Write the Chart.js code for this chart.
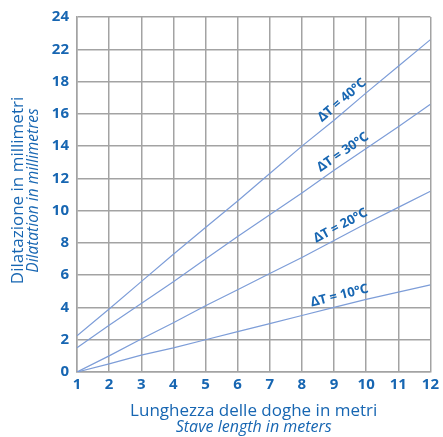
<!DOCTYPE html>
<html>
<head>
<meta charset="utf-8">
<script src="https://cdn.jsdelivr.net/npm/chart.js@4.4.1/dist/chart.umd.min.js"></script>
<style>
  html, body { margin: 0; padding: 0; background: #fff; }
  #wrap { width: 443px; height: 437px; }
</style>
</head>
<body>
<div id="wrap"><canvas id="dilatChart" width="443" height="437"></canvas></div>
<script>
// Lunghezza delle doghe (m)
const lengths = [1, 2, 3, 4, 5, 6, 7, 8, 9, 10, 11, 12];

// Dilatazione (mm) per ogni ΔT
const dt10 = [0, 0.5, 1.05, 1.5, 2.0, 2.5, 3.0, 3.5, 4.0, 4.5, 4.95, 5.4];
const dt20 = [0, 1.0, 2.05, 3.05, 4.1, 5.1, 6.1, 7.1, 8.15, 9.2, 10.2, 11.2];
const dt30 = [1.5, 2.9, 4.25, 5.6, 7.0, 8.4, 9.75, 11.1, 12.5, 13.85, 15.2, 16.6];
const dt40 = [2.25, 3.9, 5.6, 7.3, 8.95, 10.6, 12.3, 14.0, 15.6, 17.3, 18.95, 20.6];

const seriesNames = ['ΔT = 10°C', 'ΔT = 20°C', 'ΔT = 30°C', 'ΔT = 40°C'];

// Etichette asse y come stampate nell'originale (manca il 20)
const yTickLabels = ['0', '2', '4', '6', '8', '10', '12', '14', '16', '18', '22', '24'];

const blue = '#1766b2';
const lineBlue = '#7d9dd8';
const gridGray = '#a3a3a3';

// dove mettere la scritta lungo ciascuna retta (valore di x)
const labelAt = [9.25, 9.35, 9.45, 9.45];

// Etichette ruotate lungo le rette
const lineLabels = {
    id: 'lineLabels',
    afterDatasetsDraw(chart) {
        const { ctx, scales } = chart;
        const xs = scales.x, ys = scales.y;
        ctx.save();
        ctx.fillStyle = blue;
        ctx.font = 'bold 13px "Noto Sans"';
        ctx.textAlign = 'center';
        ctx.textBaseline = 'middle';
        chart.data.datasets.forEach((ds, k) => {
            const atX = labelAt[k];
            const pts = ds.data;
            const i = Math.floor(atX) - 1;
            const y0 = pts[i].y, y1 = pts[i + 1].y;
            const yv = y0 + (y1 - y0) * (atX - Math.floor(atX));
            const px = xs.getPixelForValue(atX);
            const py = ys.getPixelForValue(yv);
            const dx = xs.getPixelForValue(pts[i + 1].x) - xs.getPixelForValue(pts[i].x);
            const dy = ys.getPixelForValue(y1) - ys.getPixelForValue(y0);
            const ang = Math.atan2(dy, dx);
            ctx.save();
            ctx.translate(px, py);
            ctx.rotate(ang);
            ctx.fillText(ds.label, 0, -10);
            ctx.restore();
        });
        ctx.restore();
    }
};

// Titoli degli assi su due righe (italiano + inglese)
const axisTitles = {
    id: 'axisTitles',
    afterDraw(chart) {
        const { ctx, chartArea } = chart;
        const cx = (chartArea.left + chartArea.right) / 2;
        const cy = (chartArea.top + chartArea.bottom) / 2;
        ctx.save();
        ctx.fillStyle = blue;
        ctx.textAlign = 'center';
        ctx.textBaseline = 'middle';
        ctx.font = '17px "Open Sans"';
        ctx.fillText('Lunghezza delle doghe in metri', cx, 411);
        ctx.font = 'italic 16px "Open Sans"';
        ctx.fillText('Stave length in meters', cx, 427);

        ctx.translate(0, cy - 4);
        ctx.rotate(-Math.PI / 2);
        ctx.font = '17px "Open Sans"';
        ctx.fillText('Dilatazione in millimetri', 0, 18);
        ctx.font = 'italic 15.5px "Open Sans"';
        ctx.fillText('Dilatation in millimetres', 0, 34);
        ctx.restore();
    }
};

document.addEventListener('DOMContentLoaded', function() {
    const series = [dt10, dt20, dt30, dt40];
    const ctx = document.getElementById('dilatChart');
    const tickFont = { family: '"Noto Sans"', size: 15, weight: 'bold' };
    new Chart(ctx.getContext('2d'), {
        type: 'line',
        data: {
            datasets: series.map((vals, k) => ({
                label: seriesNames[k],
                data: lengths.map((x, i) => ({ x: x, y: vals[i] })),
                borderColor: lineBlue,
                borderWidth: 1.2,
                pointRadius: 0,
                fill: false,
                tension: 0
            }))
        },
        options: {
            responsive: false,
            animation: false,
            layout: { padding: { top: 16, right: 10, left: 0, bottom: 0 } },
            plugins: {
                legend: { display: false },
                tooltip: { enabled: false }
            },
            scales: {
                x: {
                    type: 'linear',
                    min: 1,
                    max: 12,
                    afterFit: s => { s.height = 65; },
                    ticks: {
                        stepSize: 1,
                        color: blue,
                        padding: 4,
                        font: tickFont
                    },
                    grid: { color: gridGray, lineWidth: 1.5, drawTicks: false },
                    border: { color: gridGray, width: 1.5 }
                },
                y: {
                    type: 'linear',
                    min: 0,
                    max: 22,
                    afterFit: s => { s.width = 77; },
                    ticks: {
                        stepSize: 2,
                        color: blue,
                        padding: 8,
                        font: tickFont,
                        callback: (value, index) => yTickLabels[index]
                    },
                    grid: { color: gridGray, lineWidth: 1.5, drawTicks: false },
                    border: { color: gridGray, width: 1.5 }
                }
            }
        },
        plugins: [lineLabels, axisTitles]
    });
});
</script>
</body>
</html>
